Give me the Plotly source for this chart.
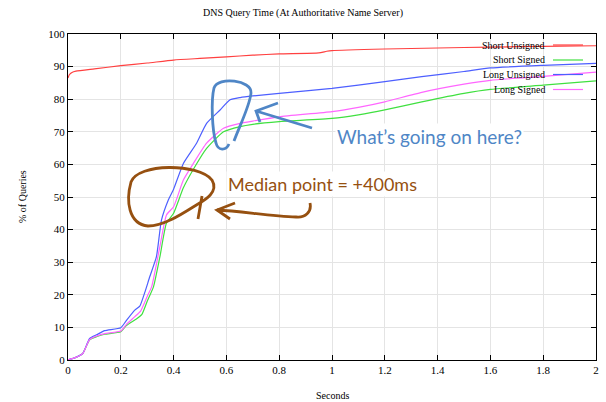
import plotly.graph_objects as go

# ---- data ----
series_names = ["Short Unsigned", "Short Signed", "Long Unsigned", "Long Signed"]
series_colors = ["#ff4040", "#40e040", "#4d5fff", "#ff66ff"]

short_unsigned_x = [0, 0.005, 0.015, 0.03, 0.1, 0.2, 0.3, 0.4, 0.5, 0.6, 0.7, 0.8, 0.95, 0.98, 1.0, 1.2, 1.4, 1.6, 1.8, 2.0]
short_unsigned_y = [86.5, 87.5, 88.2, 88.6, 89.3, 90.3, 91.1, 92.0, 92.5, 93.0, 93.5, 93.9, 94.2, 94.7, 94.9, 95.4, 95.7, 96.0, 96.2, 96.4]

short_signed_x = [0, 0.03, 0.056, 0.082, 0.11, 0.139, 0.2, 0.22, 0.259, 0.28, 0.30, 0.324, 0.348, 0.373, 0.4, 0.437, 0.475, 0.525, 0.589, 0.652, 0.7, 0.8, 1.0, 1.1, 1.2, 1.34, 1.5, 1.6, 1.8, 2.0]
short_signed_y = [0, 0.8, 2.0, 6.2, 7.2, 7.9, 8.7, 10.5, 12.6, 14.0, 18.0, 22.5, 31.6, 42.0, 45.0, 52.8, 58.5, 64.9, 70.0, 71.6, 72.3, 73.1, 74.1, 75.2, 76.7, 79.2, 81.8, 83.0, 84.3, 85.6]

long_unsigned_x = [0, 0.03, 0.056, 0.082, 0.11, 0.139, 0.2, 0.22, 0.253, 0.272, 0.29, 0.31, 0.335, 0.354, 0.38, 0.4, 0.437, 0.487, 0.525, 0.576, 0.614, 0.652, 0.7, 0.8, 1.0, 1.2, 1.34, 1.5, 1.6, 1.8, 2.0]
long_unsigned_y = [0, 0.8, 2.0, 6.6, 7.8, 9.0, 9.9, 12.0, 15.3, 16.5, 20.5, 25.6, 31.7, 42.9, 49.1, 52.4, 60.3, 66.5, 72.6, 76.7, 79.8, 80.5, 81.0, 81.8, 83.3, 85.4, 86.9, 88.5, 89.6, 90.4, 91.0]

long_signed_x = [0, 0.03, 0.056, 0.082, 0.11, 0.139, 0.2, 0.22, 0.253, 0.275, 0.30, 0.317, 0.348, 0.373, 0.4, 0.437, 0.475, 0.525, 0.589, 0.652, 0.7, 0.8, 1.0, 1.1, 1.2, 1.34, 1.5, 1.6, 1.8, 2.0]
long_signed_y = [0, 0.8, 2.0, 6.3, 7.4, 8.1, 8.9, 10.8, 13.3, 15.0, 19.5, 22.5, 34.8, 44.5, 47.0, 55.2, 60.3, 66.5, 71.1, 72.6, 73.3, 74.6, 76.2, 77.5, 79.2, 82.1, 84.6, 85.8, 87.0, 88.3]

x_ticks = [0, 0.2, 0.4, 0.6, 0.8, 1, 1.2, 1.4, 1.6, 1.8, 2]
x_tick_labels = ["0", "0.2", "0.4", "0.6", "0.8", "1", "1.2", "1.4", "1.6", "1.8", "2"]
y_ticks = [0, 10, 20, 30, 40, 50, 60, 70, 80, 90, 100]
y_tick_labels = [str(v) for v in y_ticks]

title_text = "DNS Query Time (At Authoritative Name Server)"
x_title = "Seconds"
y_title = "% of Queries"
note_blue = "What\u2019s going on here?"
note_brown = "Median point = +400ms"

# ---- figure ----
W, H = 606, 402
ML, MR, MT, MB = 68, 10, 34, 42
PW, PH = W - ML - MR, H - MT - MB

def P(px, py):
    return ((px - ML) / PW, (H - MB - py) / PH)

def path(cmds):
    out = []
    for c in cmds:
        op, pts = c[0], c[1:]
        s = op
        for i in range(0, len(pts), 2):
            x, y = P(pts[i], pts[i + 1])
            s += " %.4f,%.4f" % (x, y)
        out.append(s)
    return " ".join(out)

serif = "Liberation Serif, Times New Roman, serif"
fig = go.Figure()

xs = [short_unsigned_x, short_signed_x, long_unsigned_x, long_signed_x]
ys = [short_unsigned_y, short_signed_y, long_unsigned_y, long_signed_y]
for name, col, x, y in zip(series_names, series_colors, xs, ys):
    fig.add_trace(go.Scatter(x=x, y=y, mode="lines", name=name,
                             line=dict(color=col, width=1.2, shape="spline", smoothing=0.5),
                             showlegend=False))

# white key box (covers gridlines, below traces)
kx0, ky0 = P(465, 97)
kx1, ky1 = P(595, 35)
fig.add_shape(type="rect", xref="paper", yref="paper", x0=kx0, y0=ky0, x1=kx1, y1=ky1,
              fillcolor="white", line=dict(width=0), layer="between")

# custom key: text on the left, line sample on the right
key_rows = [45, 60, 74.5, 89.5]
for name, col, ry in zip(series_names, series_colors, key_rows):
    tx, ty = P(547, ry)
    fig.add_annotation(x=tx, y=ty, xref="paper", yref="paper", text=name, showarrow=False,
                       xanchor="right", yanchor="middle",
                       font=dict(family=serif, size=10, color="black"))
    lx0, ly = P(553, ry)
    lx1, _ = P(583, ry)
    fig.add_shape(type="line", xref="paper", yref="paper", x0=lx0, x1=lx1, y0=ly, y1=ly,
                  line=dict(color=col, width=1.2))

# hand-drawn annotations
blue = "#4f86c6"
brown = "#965010"
hand = dict(xref="paper", yref="paper", type="path", layer="above")
fig.add_shape(path=path([("M", 234, 141), ("C", 240, 125, 250, 105, 251, 93),
                         ("C", 252, 80, 218, 76, 214, 88), ("C", 211, 100, 212, 130, 216, 143),
                         ("C", 218, 151, 226, 151, 229, 144)]),
              line=dict(color=blue, width=2.8), **hand)
fig.add_shape(path=path([("M", 312, 128), ("L", 256, 111), ("M", 278, 103), ("L", 256, 111), ("L", 260, 122)]),
              line=dict(color=blue, width=2.8), **hand)
fig.add_shape(path=path([("M", 198, 204), ("C", 185, 212, 165, 226, 148, 226),
                         ("C", 128, 224, 126, 200, 131, 182), ("C", 138, 163, 198, 163, 212, 180),
                         ("C", 219, 192, 205, 200, 198, 204), ("M", 202, 196), ("L", 198, 219)]),
              line=dict(color=brown, width=2.8), **hand)
fig.add_shape(path=path([("M", 310, 203), ("C", 312, 212, 305, 218, 296, 217),
                         ("C", 270, 216, 240, 211, 217, 210),
                         ("M", 235, 203), ("L", 217, 210), ("L", 230, 219)]),
              line=dict(color=brown, width=2.8), **hand)

bx, by = P(335, 136)
fig.add_annotation(x=bx, y=by, xref="paper", yref="paper", text=note_blue, showarrow=False,
                   xanchor="left", yanchor="middle", bgcolor="white",
                   font=dict(family="Lato, sans-serif", size=19, color=blue))
mx, my = P(226, 184)
fig.add_annotation(x=mx, y=my, xref="paper", yref="paper", text=note_brown, showarrow=False,
                   xanchor="left", yanchor="middle", bgcolor="white",
                   font=dict(family="Lato, sans-serif", size=18, color=brown))

# axis titles as paper annotations (keeps plot area fixed)
ax_, ay_ = P(332, 395)
fig.add_annotation(x=ax_, y=ay_, xref="paper", yref="paper", text=x_title, showarrow=False,
                   xanchor="center", yanchor="middle", font=dict(family=serif, size=10, color="black"))
yx_, yy_ = P(22, 197)
fig.add_annotation(x=yx_, y=yy_, xref="paper", yref="paper", text=y_title, showarrow=False,
                   textangle=-90, xanchor="center", yanchor="middle",
                   font=dict(family=serif, size=10, color="black"))

axis_common = dict(showline=True, linecolor="black", linewidth=1, mirror="allticks",
                   ticks="inside", ticklen=5, tickcolor="black", showgrid=True,
                   gridcolor="#e4e4e4", gridwidth=1, zeroline=False, automargin=False,
                   tickfont=dict(family=serif, size=11, color="black"))

fig.update_layout(
    width=W, height=H, margin=dict(l=ML, r=MR, t=MT, b=MB, autoexpand=False),
    paper_bgcolor="white", plot_bgcolor="white",
    title=dict(text=title_text, x=0.5, xanchor="center", y=1 - 12 / H, yanchor="middle",
               font=dict(family=serif, size=10, color="black")),
    xaxis=dict(range=[0, 2], tickvals=x_ticks, ticktext=x_tick_labels, **axis_common),
    yaxis=dict(range=[0, 100], tickvals=y_ticks, ticktext=y_tick_labels, **axis_common),
)

fig.write_html("out.html", config={"displayModeBar": False},
               post_script="document.body.style.margin='0';document.body.style.overflow='hidden';")
